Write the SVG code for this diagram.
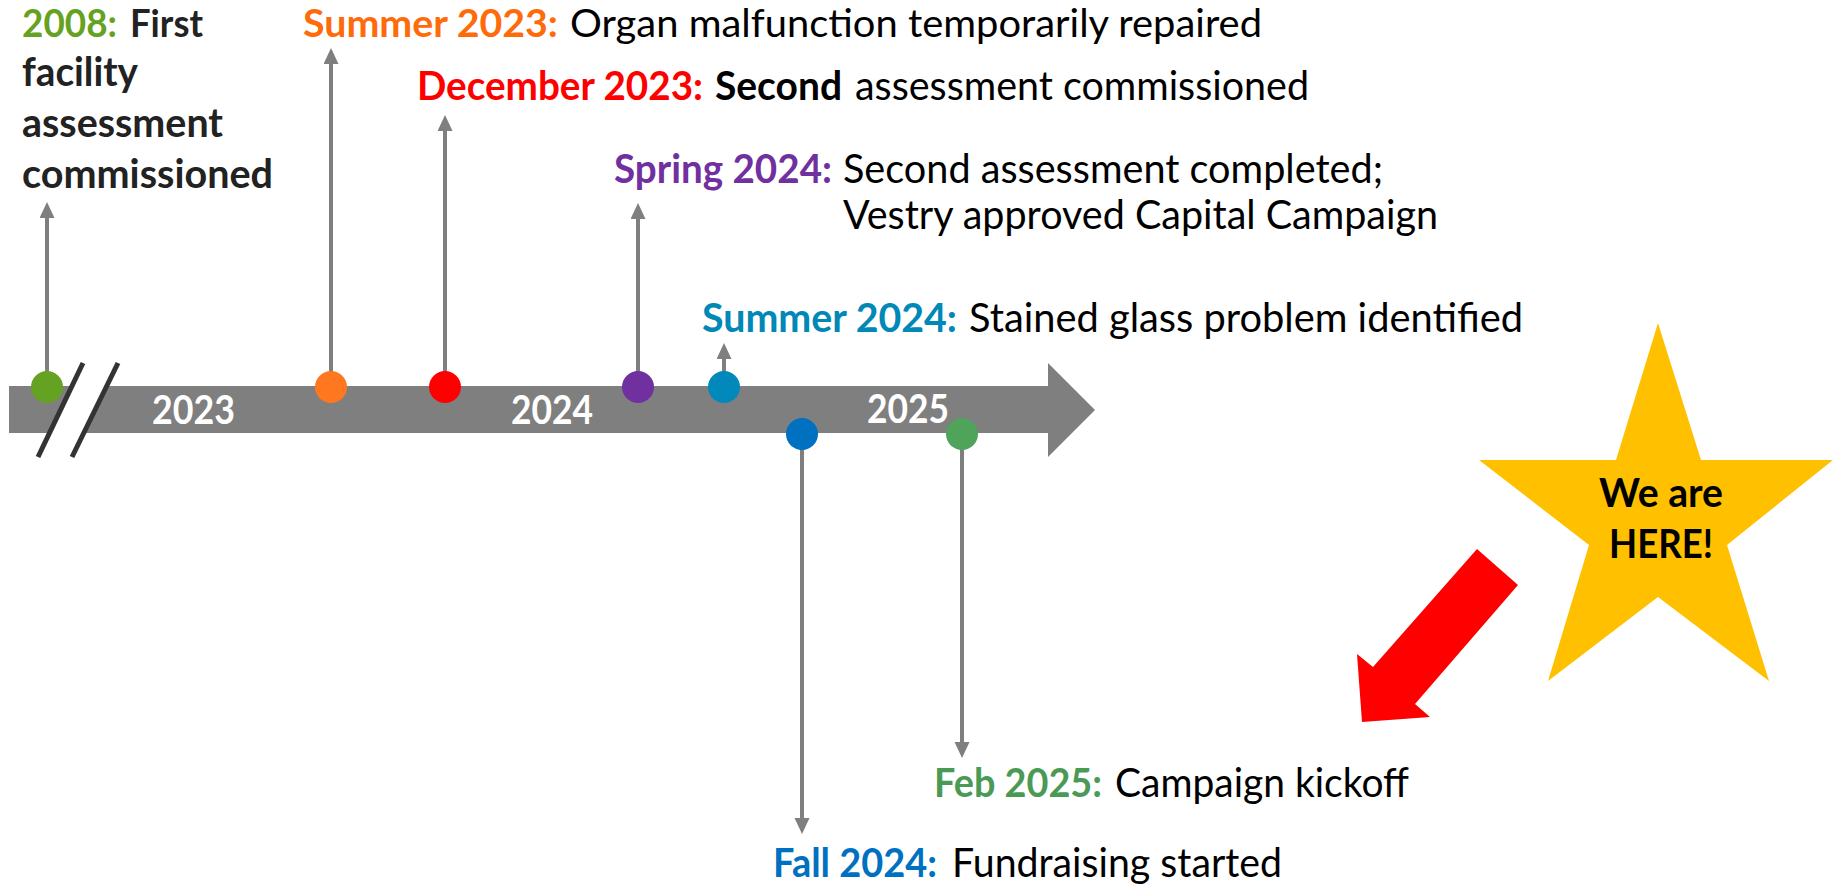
<svg xmlns="http://www.w3.org/2000/svg" width="1833" height="886" viewBox="0 0 1833 886">
<style>
text{font-family:Lato,"Open Sans","Liberation Sans",sans-serif;font-size:40px;}
.top{font-size:38px;}
.b{font-weight:bold;}
.r{font-weight:normal;fill:#000;}
.yr{font-weight:bold;fill:#fff;font-size:41px;}
.conn{stroke:#7f7f7f;stroke-width:4;fill:none;marker-end:url(#ah);}
</style>
<defs>
<marker id="ah" markerUnits="userSpaceOnUse" markerWidth="16" markerHeight="16" refX="2" refY="7.5" orient="auto">
<path d="M0,0 L16,7.5 L0,15 z" fill="#7f7f7f"/>
</marker>
</defs>
<rect width="1833" height="886" fill="#fff"/>
<g id="timeline">
<polygon points="9,386 1048,386 1048,363 1095,410 1048,457 1048,433 9,433" fill="#7f7f7f"/>
<polygon points="83,363 118,363 72,457 38,457" fill="#fff"/>
<line x1="83" y1="363" x2="38" y2="457" stroke="#333" stroke-width="5"/>
<line x1="118" y1="363" x2="72" y2="457" stroke="#333" stroke-width="5"/>
<text class="yr" x="152" y="424" textLength="83" lengthAdjust="spacingAndGlyphs">2023</text>
<text class="yr" x="511" y="424" textLength="82" lengthAdjust="spacingAndGlyphs">2024</text>
<text class="yr" x="867" y="423" textLength="82" lengthAdjust="spacingAndGlyphs">2025</text>
</g>
<g id="connectors">
<line class="conn" x1="47" y1="372" x2="47" y2="216"/>
<line class="conn" x1="331" y1="372" x2="331" y2="62"/>
<line class="conn" x1="445" y1="372" x2="445" y2="129"/>
<line class="conn" x1="638" y1="372" x2="638" y2="217"/>
<line class="conn" x1="724" y1="372" x2="724" y2="357"/>
<line class="conn" x1="802" y1="449" x2="802" y2="820"/>
<line class="conn" x1="962" y1="449" x2="962" y2="744"/>
</g>
<g id="n2008">
<circle cx="47" cy="387" r="16" fill="#66A222"/>
<text class="b top" y="37"><tspan x="22" fill="#66A222" textLength="95" lengthAdjust="spacingAndGlyphs">2008:</tspan><tspan x="130" fill="#222" textLength="73" lengthAdjust="spacingAndGlyphs">First</tspan></text>
<text class="b" fill="#222" x="22" y="86" textLength="116" lengthAdjust="spacingAndGlyphs">facility</text>
<text class="b" fill="#222" x="22" y="137" textLength="201" lengthAdjust="spacingAndGlyphs">assessment</text>
<text class="b" fill="#222" x="22" y="188" textLength="251" lengthAdjust="spacingAndGlyphs">commissioned</text>
</g>
<g id="nSummer2023">
<circle cx="331" cy="387" r="16" fill="#FF781F"/>
<text class="b top" y="37"><tspan x="303" fill="#FF6B0A" textLength="255" lengthAdjust="spacingAndGlyphs">Summer 2023:</tspan><tspan class="r" x="570" textLength="692" lengthAdjust="spacingAndGlyphs">Organ malfunction temporarily repaired</tspan></text>
</g>
<g id="nDec2023">
<circle cx="445" cy="387" r="16" fill="#FF0000"/>
<text class="b" y="100"><tspan x="417" fill="#FF0000" textLength="286" lengthAdjust="spacingAndGlyphs">December 2023:</tspan><tspan x="715" fill="#000" textLength="127" lengthAdjust="spacingAndGlyphs">Second</tspan><tspan class="r" x="855" textLength="454" lengthAdjust="spacingAndGlyphs">assessment commissioned</tspan></text>
</g>
<g id="nSpring2024">
<circle cx="638" cy="387" r="16" fill="#7030A0"/>
<text class="b" y="183"><tspan x="614" fill="#7030A0" textLength="218" lengthAdjust="spacingAndGlyphs">Spring 2024:</tspan><tspan class="r" x="843" textLength="540" lengthAdjust="spacingAndGlyphs">Second assessment completed;</tspan></text>
<text class="r" x="843" y="229" textLength="595" lengthAdjust="spacingAndGlyphs">Vestry approved Capital Campaign</text>
</g>
<g id="nSummer2024">
<circle cx="724" cy="387" r="16" fill="#0089BA"/>
<text class="b" y="332"><tspan x="702" fill="#0088B6" textLength="255" lengthAdjust="spacingAndGlyphs">Summer 2024:</tspan><tspan class="r" x="969" textLength="554" lengthAdjust="spacingAndGlyphs">Stained glass problem identified</tspan></text>
</g>
<g id="nFall2024">
<circle cx="802" cy="434" r="16" fill="#0070C0"/>
<text class="b" y="877"><tspan x="773" fill="#0070C0" textLength="164" lengthAdjust="spacingAndGlyphs">Fall 2024:</tspan><tspan class="r" x="952" textLength="330" lengthAdjust="spacingAndGlyphs">Fundraising started</tspan></text>
</g>
<g id="nFeb2025">
<circle cx="962" cy="434" r="16" fill="#4FA35A"/>
<text class="b" y="797"><tspan x="934" fill="#4A9A55" textLength="168" lengthAdjust="spacingAndGlyphs">Feb 2025:</tspan><tspan class="r" x="1115" textLength="294" lengthAdjust="spacingAndGlyphs">Campaign kickoff</tspan></text>
</g>
<g id="redArrow">
<polygon points="1477,549 1518,585 1415,704 1430,717 1362,722 1357,654 1373,667" fill="#FF0000"/>
</g>
<g id="star">
<polygon points="1658,323 1701,460 1833,460 1727,545 1769,681 1658,597 1548,681 1589,545 1479,460 1616,460" fill="#FFC000"/>
<text class="b" fill="#000" x="1661" y="507" text-anchor="middle" textLength="124" lengthAdjust="spacingAndGlyphs">We are</text>
<text class="b" fill="#000" x="1661" y="558" text-anchor="middle" textLength="104" lengthAdjust="spacingAndGlyphs">HERE!</text>
</g>
</svg>
